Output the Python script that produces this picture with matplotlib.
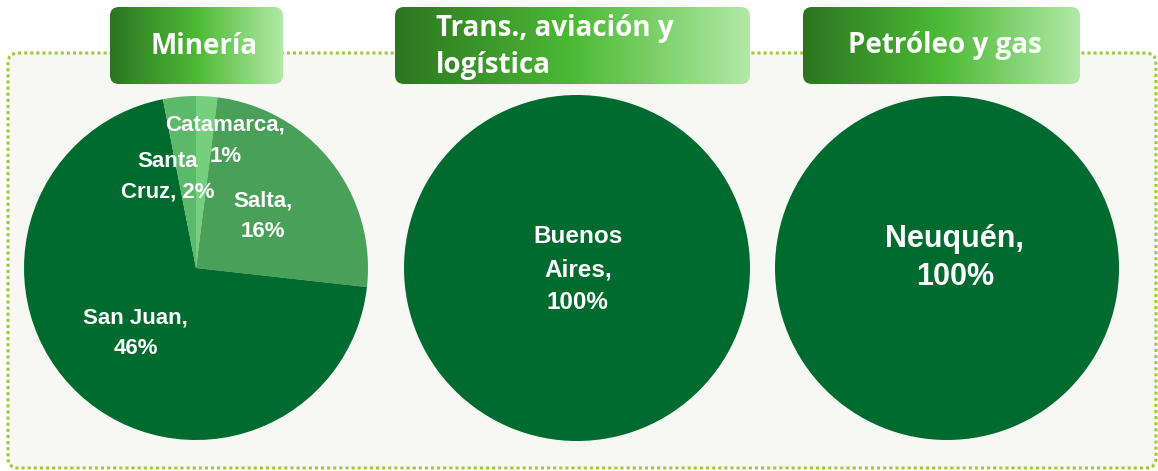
import numpy as np
import matplotlib.pyplot as plt
from matplotlib.patches import FancyBboxPatch
from matplotlib.colors import LinearSegmentedColormap

W, H = 1158, 471

# datos
titulos = ['Minería', 'Trans., aviación y\nlogística', 'Petróleo y gas']

mineria_prov = ['Catamarca', 'Salta', 'San Juan', 'Santa Cruz']
mineria_pct = [1.3, 16.1, 45.6, 2.0]
transporte_prov = ['Buenos Aires']
transporte_pct = [100]
petroleo_prov = ['Neuquén']
petroleo_pct = [100]

colores_mineria = ['#76CF7C', '#49A058', '#006B2F', '#5DB96A']
verde = '#006B2F'

fig = plt.figure(figsize=(W / 100, H / 100), dpi=100)
fig.patch.set_facecolor('white')

# eje de fondo en pixeles (y hacia abajo)
fondo = fig.add_axes([0, 0, 1, 1], zorder=-1)
fondo.axis('off')

panel = FancyBboxPatch((8, 53), 1148, 415, boxstyle='round,pad=0,rounding_size=10',
                       fc='#F7F7F3', ec='#9DC93C', lw=2.2, ls=(0, (1, 1)), zorder=0.5)
fondo.add_patch(panel)

cmap_titulo = LinearSegmentedColormap.from_list(
    'titulo', [(0, '#2C7520'), (0.5, '#4CBA35'), (1, '#B2E9A6')])


def caja_titulo(x0, y0, w, h):
    caja = FancyBboxPatch((x0, y0), w, h, boxstyle='round,pad=0,rounding_size=9',
                          fc='none', ec='none', zorder=2)
    fondo.add_patch(caja)
    grad = np.linspace(0, 1, 256).reshape(1, -1)
    im = fondo.imshow(grad, cmap=cmap_titulo, extent=(x0, x0 + w, y0 + h, y0),
                      aspect='auto', interpolation='bilinear', zorder=2)
    im.set_clip_path(caja)


caja_titulo(110, 7, 173, 77)
caja_titulo(395, 7, 355, 77)
caja_titulo(803, 7, 277, 77)
fondo.set_xlim(0, W)
fondo.set_ylim(H, 0)

fuente_titulo = dict(color='white', fontsize=20, fontweight='bold', zorder=3,
                     family=['Open Sans', 'DejaVu Sans'])
fondo.text(204, 46, titulos[0], ha='center', va='center', **fuente_titulo)
fondo.text(436, 47, titulos[1], ha='left', va='center', linespacing=1.38, **fuente_titulo)
fondo.text(945, 46, titulos[2], ha='center', va='center', **fuente_titulo)


def eje_pie(cx, cy, r):
    ax = fig.add_axes([(cx - r) / W, (H - cy - r) / H, 2 * r / W, 2 * r / H])
    return ax


fuente_et = dict(color='white', fontweight='bold', family=['Liberation Sans', 'DejaVu Sans'],
                 ha='center', va='center')

# Minería
ax1 = eje_pie(196, 268, 172)
ax1.pie(mineria_pct, colors=colores_mineria, startangle=90, counterclock=False,
        wedgeprops=dict(linewidth=0))
ax1.set_xlim(-1, 1)
ax1.set_ylim(-1, 1)
pos_mineria = [(0.17, 0.74), (0.39, 0.30), (-0.35, -0.38), (-0.165, 0.53)]
for prov, pct, (x, y) in zip(mineria_prov, mineria_pct, pos_mineria):
    if prov == 'Santa Cruz':
        txt = 'Santa\nCruz, %.0f%%' % pct
    else:
        txt = '%s,\n%.0f%%' % (prov, pct)
    ax1.text(x, y, txt, fontsize=16, linespacing=1.6, **fuente_et)

# Transporte
ax2 = eje_pie(577, 268, 173)
ax2.pie(transporte_pct, colors=[verde], startangle=90, wedgeprops=dict(linewidth=0))
ax2.set_xlim(-1, 1)
ax2.set_ylim(-1, 1)
ax2.text(0.005, -0.01, 'Buenos\nAires,\n%d%%' % transporte_pct[0], fontsize=17.5,
         linespacing=1.55, **fuente_et)

# Petróleo
ax3 = eje_pie(947, 268, 172)
ax3.pie(petroleo_pct, colors=[verde], startangle=90, wedgeprops=dict(linewidth=0))
ax3.set_xlim(-1, 1)
ax3.set_ylim(-1, 1)
ax3.text(0.045, 0.06, '%s,\n%d%%' % (petroleo_prov[0], petroleo_pct[0]), fontsize=22,
         linespacing=1.36, **fuente_et)

plt.savefig('out.png', dpi=100)
